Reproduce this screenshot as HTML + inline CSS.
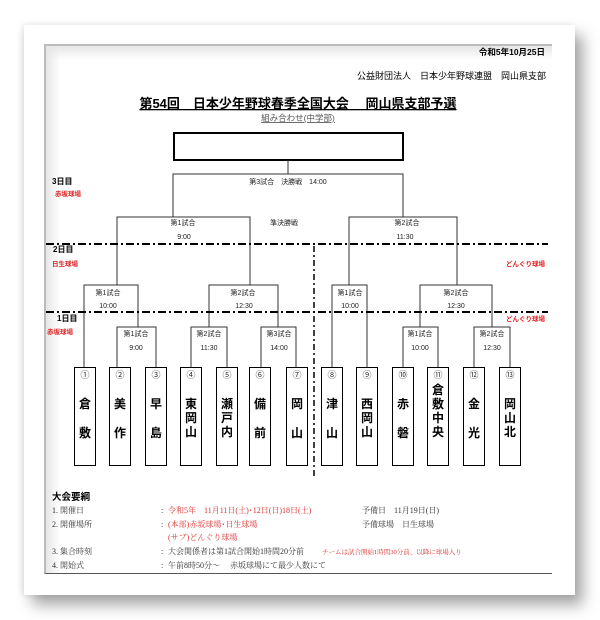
<!DOCTYPE html>
<html><head><meta charset="utf-8"><style>
html,body{margin:0;padding:0;background:#fff;width:600px;height:620px;overflow:hidden}
#frame{position:absolute;left:24px;top:25px;width:551px;height:570px;background:#fff;box-shadow:8px 10px 14px rgba(0,0,0,.35),-2px 0 6px rgba(0,0,0,.10)}
#page{position:absolute;left:44px;top:44px;width:506px;height:527px;border-left:2px solid #bbb;border-top:2px solid #bbb;border-bottom:1px solid #555;background:linear-gradient(90deg,#e6e6e6 0px,#fff 14px);}
#page:after{content:"";position:absolute;left:0;top:0;right:0;height:14px;background:linear-gradient(180deg,#e6e6e6,rgba(255,255,255,0))}
svg{position:absolute;left:0;top:0}
text{font-family:"Liberation Sans","Noto Sans CJK JP",sans-serif}
.s{font-family:"Liberation Serif","Noto Serif CJK SC",serif}
</style></head><body>
<div id="frame"></div><div id="page"></div>
<svg width="600" height="620" viewBox="0 0 600 620">
<g fill="#000">
<text x="545" y="55" font-size="8.5" font-weight="bold" text-anchor="end">令和5年10月25日</text>
<text x="546" y="79" font-size="9" text-anchor="end">公益財団法人　日本少年野球連盟　岡山県支部</text>
<text x="298" y="108" font-size="13" font-weight="bold" text-anchor="middle" text-decoration="underline">第54回　日本少年野球春季全国大会　 岡山県支部予選</text>
<text x="298" y="121" font-size="8.5" fill="#555" text-anchor="middle" text-decoration="underline">組み合わせ(中学部)</text>
</g>
<rect x="174" y="133" width="229" height="27" fill="none" stroke="#000" stroke-width="2"/>
<g fill="none" stroke="#333" stroke-width="1">
<path d="M288 160V174M173 217V174H403V217"/>
<path d="M117 285V217H250V285M349 285V217H457V285"/>
<path d="M84 367V285H138V327M209 327V285H278V327M332 367V285H367V367M420 327V285H492V327"/>
<path d="M117 367V327H156V367M191 367V327H227V367M261 367V327H296V367M403 367V327H438V367M474 367V327H510V367"/>
</g>
<g stroke="#000" stroke-width="2" stroke-dasharray="8,3,2,3">
<line x1="46" y1="244" x2="548" y2="244"/><line x1="46" y1="312" x2="548" y2="312"/>
</g>
<line x1="314" y1="246" x2="314" y2="478" stroke="#000" stroke-width="1.5" stroke-dasharray="6,3,2,3"/>
<g font-size="7" text-anchor="middle" fill="#222">
<text x="288" y="184">第3試合　決勝戦　14:00</text>
<text x="183" y="225">第1試合</text><text x="184" y="239">9:00</text>
<text x="284" y="225">準決勝戦</text>
<text x="407" y="225">第2試合</text><text x="405" y="239">11:30</text>
<text x="108" y="295">第1試合</text><text x="108" y="308">10:00</text>
<text x="243" y="295">第2試合</text><text x="244" y="308">12:30</text>
<text x="350" y="295">第1試合</text><text x="350" y="308">10:00</text>
<text x="456" y="295">第2試合</text><text x="456" y="308">12:30</text>
<text x="136" y="336">第1試合</text><text x="136" y="350">9:00</text>
<text x="209" y="336">第2試合</text><text x="209" y="350">11:30</text>
<text x="279" y="336">第3試合</text><text x="279" y="350">14:00</text>
<text x="420" y="336">第1試合</text><text x="420" y="350">10:00</text>
<text x="492" y="336">第2試合</text><text x="492" y="350">12:30</text>
</g>
<g font-size="8" font-weight="bold">
<text x="52" y="184">3日目</text><text x="53" y="252">2日目</text><text x="57" y="321">1日目</text>
</g>
<g font-size="6.5" fill="#e02020" font-weight="bold">
<text x="55" y="196">赤坂球場</text><text x="52" y="266">日生球場</text><text x="47" y="334">赤坂球場</text>
<text x="545" y="266" text-anchor="end">どんぐり球場</text><text x="545" y="321" text-anchor="end">どんぐり球場</text>
</g>
<g fill="none" stroke="#000" stroke-width="1">
<rect x="74.5" y="367.5" width="21" height="98"/><rect x="109.5" y="367.5" width="21" height="98"/><rect x="145.5" y="367.5" width="21" height="98"/><rect x="180.5" y="367.5" width="21" height="98"/><rect x="216.5" y="367.5" width="21" height="98"/><rect x="249.5" y="367.5" width="21" height="98"/><rect x="286.5" y="367.5" width="21" height="98"/><rect x="321.5" y="367.5" width="21" height="98"/><rect x="356.5" y="367.5" width="21" height="98"/><rect x="392.5" y="367.5" width="21" height="98"/><rect x="427.5" y="367.5" width="21" height="98"/><rect x="463.5" y="367.5" width="21" height="98"/><rect x="499.5" y="367.5" width="21" height="98"/>
</g>
<g font-size="9" text-anchor="middle" fill="#333">
<text x="85" y="378">①</text><text x="120" y="378">②</text><text x="156" y="378">③</text><text x="191" y="378">④</text><text x="227" y="378">⑤</text><text x="260" y="378">⑥</text><text x="297" y="378">⑦</text><text x="332" y="378">⑧</text><text x="367" y="378">⑨</text><text x="403" y="378">⑩</text><text x="438" y="378">⑪</text><text x="474" y="378">⑫</text><text x="510" y="378">⑬</text>
</g>
<g font-size="12" font-weight="bold" text-anchor="middle">
<text x="85" y="408">倉</text><text x="85" y="437">敷</text>
<text x="120" y="408">美</text><text x="120" y="437">作</text>
<text x="156" y="408">早</text><text x="156" y="437">島</text>
<text x="191" y="408">東</text><text x="191" y="422">岡</text><text x="191" y="436">山</text>
<text x="227" y="408">瀬</text><text x="227" y="422">戸</text><text x="227" y="436">内</text>
<text x="260" y="408">備</text><text x="260" y="437">前</text>
<text x="297" y="408">岡</text><text x="297" y="437">山</text>
<text x="332" y="408">津</text><text x="332" y="437">山</text>
<text x="367" y="408">西</text><text x="367" y="422">岡</text><text x="367" y="436">山</text>
<text x="403" y="408">赤</text><text x="403" y="437">磐</text>
<text x="438" y="394">倉</text><text x="438" y="408">敷</text><text x="438" y="422">中</text><text x="438" y="436">央</text>
<text x="474" y="408">金</text><text x="474" y="437">光</text>
<text x="510" y="408">岡</text><text x="510" y="422">山</text><text x="510" y="436">北</text>
</g>
<text x="52" y="500" font-size="9.5" font-weight="bold">大会要綱</text>
<g class="s" font-size="8" fill="#333">
<text class="s" x="52" y="513">1. 開催日</text><text class="s" x="52" y="527">2. 開催場所</text><text class="s" x="52" y="554">3. 集合時刻</text><text class="s" x="52" y="568">4. 開始式</text>
<text class="s" x="161" y="513">:</text><text class="s" x="161" y="527">:</text><text class="s" x="161" y="554">:</text><text class="s" x="161" y="568">:</text>
<text class="s" x="168" y="513" fill="#d33">令和5年　11月11日(土)･12日(日)18日(土)</text>
<text class="s" x="362" y="513">予備日　11月19日(日)</text>
<text class="s" x="168" y="527" fill="#d33">(本部)赤坂球場･日生球場</text>
<text class="s" x="362" y="527">予備球場　日生球場</text>
<text class="s" x="168" y="540" fill="#d33">(サブ)どんぐり球場</text>
<text class="s" x="168" y="554">大会関係者は第1試合開始1時間20分前</text>
<text class="s" x="322" y="554" font-size="6.5" fill="#d33">チームは試合開始1時間30分前、以降に球場入り</text>
<text class="s" x="168" y="568">午前8時50分～　 赤坂球場にて最少人数にて</text>
</g>
</svg>
</body></html>
